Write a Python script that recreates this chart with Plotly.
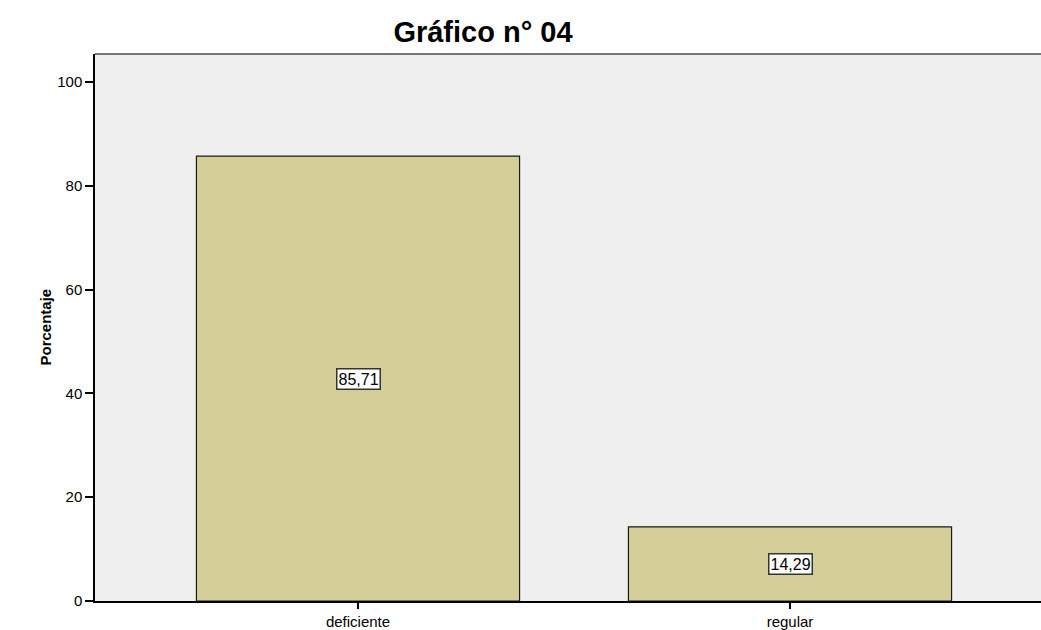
import plotly.graph_objects as go

categories = ["deficiente", "regular"]
values = [85.71, 14.29]
labels = ["85,71", "14,29"]
y_ticks = [0, 20, 40, 60, 80, 100]

FONT = "Liberation Sans, Arial"

fig = go.Figure()
fig.add_trace(go.Bar(
    x=[0, 1], y=values, width=0.748,
    marker=dict(color="#D3CE98", line=dict(color="#1A1A1A", width=1.2)),
    hoverinfo="skip",
))

for i, (v, t) in enumerate(zip(values, labels)):
    fig.add_annotation(
        x=i, y=v / 2, xref="x", yref="y", text=t, showarrow=False,
        font=dict(family=FONT, size=16, color="#000000"),
        bgcolor="#FFFFFF", bordercolor="#333333", borderwidth=1.5, borderpad=1,
    )

fig.add_annotation(
    x=(45 - 95) / 946, y=0.5, xref="paper", yref="paper", text="<b>Porcentaje</b>",
    textangle=-90, showarrow=False, xanchor="center", yanchor="middle",
    font=dict(family=FONT, size=15, color="#000000"),
)

fig.update_layout(
    width=1041, height=630,
    margin=dict(l=95, r=0, t=54, b=26),
    paper_bgcolor="#FFFFFF", plot_bgcolor="#EFEFEF",
    showlegend=False,
    title=dict(text="<b>Gráfico n° 04</b>", x=483 / 1041, xanchor="center",
               y=1 - 32 / 630, yanchor="middle",
               font=dict(family=FONT, size=29, color="#000000")),
    xaxis=dict(range=[(95 - 358) / 432, (1041 - 358) / 432],
               tickmode="array", tickvals=[0, 1], ticktext=categories,
               ticks="outside", ticklen=6, tickcolor="#000000", tickwidth=1.5,
               showline=True, linecolor="#000000", linewidth=1.5,
               showgrid=False, zeroline=False,
               tickfont=dict(family=FONT, size=15, color="#000000")),
    yaxis=dict(range=[0, 105.4], tickmode="array", tickvals=y_ticks,
               ticks="outside", ticklen=8, tickcolor="#000000", tickwidth=1.5,
               showline=True, linecolor="#000000", linewidth=1.5,
               showgrid=False, zeroline=False,
               tickfont=dict(family=FONT, size=15, color="#000000")),
    shapes=[dict(type="line", xref="paper", yref="paper", x0=0, x1=1, y0=1, y1=1,
                 line=dict(color="#777777", width=2))],
)

fig.write_html("out.html", config={"displayModeBar": False},
               post_script="document.body.style.margin='0';document.body.style.overflow='hidden';")
